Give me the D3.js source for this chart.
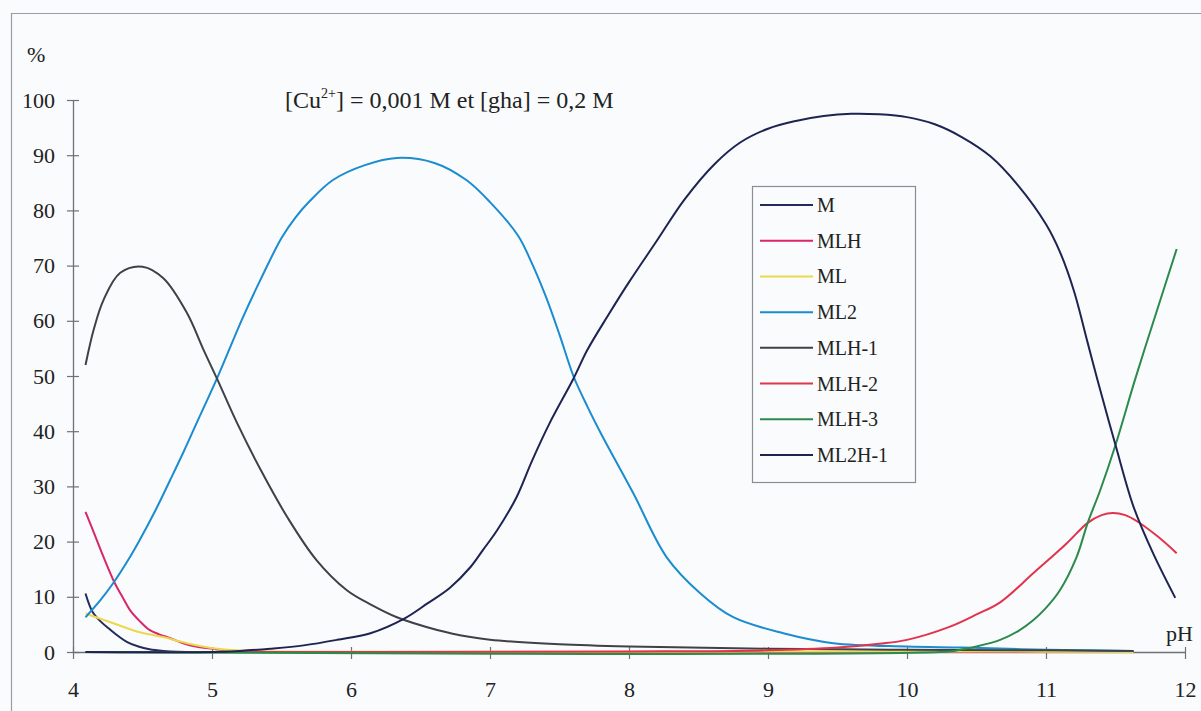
<!DOCTYPE html>
<html>
<head>
<meta charset="utf-8">
<script src="https://cdn.jsdelivr.net/npm/d3@7"></script>
<style>
  html, body { margin: 0; padding: 0; background: #f9fbfc; }
  svg { display: block; }
  text { font-family: "Liberation Serif", "Times New Roman", "DejaVu Serif", serif; fill: #222; }
</style>
</head>
<body>
<svg id="chart" width="1201" height="711"></svg>
<script>
// ---- data ----
const seriesNames = ["M", "MLH", "ML", "ML2", "MLH-1", "MLH-2", "MLH-3", "ML2H-1"];
const seriesColors = ["#222b5c", "#d8276a", "#ecd84c", "#1b8ccf", "#404048", "#e2334d", "#2b8a4c", "#1e2452"];

const M_pH  = [4.09, 4.14, 4.2, 4.27, 4.33, 4.39, 4.47, 4.55, 4.65, 4.75, 5.0, 6.0, 8.0, 10.0, 11.63];
const M_val = [10.6, 7.3, 5.5, 4.0, 2.8, 1.8, 1.0, 0.5, 0.2, 0.05, 0, 0, 0, 0, 0];

const MLH_pH  = [4.09, 4.16, 4.22, 4.3, 4.36, 4.41, 4.48, 4.55, 4.62, 4.7, 4.84, 5.03, 5.2, 6.0, 8.0, 11.63];
const MLH_val = [25.4, 21.0, 17.2, 12.5, 9.8, 7.6, 5.6, 4.0, 3.2, 2.5, 1.2, 0.5, 0.1, 0, 0, 0];

const ML_pH  = [4.09, 4.12, 4.2, 4.29, 4.38, 4.46, 4.55, 4.65, 4.82, 5.04, 5.3, 6.0, 8.0, 10.0, 10.4, 11.63];
const ML_val = [7.0, 6.7, 6.0, 5.2, 4.4, 3.7, 3.2, 2.7, 1.6, 0.6, 0.2, 0.05, 0.05, 0.1, 0.1, 0];

const ML2_pH  = [4.09, 4.2, 4.29, 4.4, 4.48, 4.6, 4.7, 4.8, 4.89, 5.04, 5.22, 5.35, 5.5, 5.6, 5.7, 5.87, 6.1, 6.33, 6.6, 6.83, 7.0, 7.2, 7.3, 7.4, 7.5, 7.6, 7.7, 7.8, 8.03, 8.27, 8.51, 8.75, 9.11, 9.47, 10.0, 10.4, 11.0, 11.63];
const ML2_val = [6.3, 9.5, 12.5, 16.8, 20.3, 26.0, 31.2, 36.5, 41.5, 49.8, 60.5, 67.5, 75.0, 78.7, 81.6, 85.5, 88.2, 89.5, 88.6, 85.5, 81.5, 75.5, 70.5, 64.5, 57.5, 50.0, 44.5, 39.5, 28.8, 17.2, 10.7, 6.3, 3.4, 1.6, 1.0, 0.8, 0.4, 0.2];

const MLH1_pH  = [4.09, 4.15, 4.22, 4.34, 4.5, 4.65, 4.82, 4.94, 5.04, 5.18, 5.35, 5.54, 5.75, 5.97, 6.15, 6.33, 6.62, 6.86, 7.0, 7.5, 8.0, 9.0, 10.0, 11.0, 11.63];
const MLH1_val = [52.0, 58.5, 63.8, 68.7, 69.8, 67.7, 61.4, 54.7, 49.3, 41.5, 33.0, 24.5, 16.7, 11.2, 8.5, 6.3, 4.0, 2.7, 2.2, 1.4, 1.0, 0.6, 0.4, 0.3, 0.2];

const MLH2_pH  = [4.09, 8.0, 9.0, 9.5, 9.8, 10.0, 10.3, 10.5, 10.67, 10.91, 11.15, 11.3, 11.4, 11.48, 11.57, 11.66, 11.8, 11.94];
const MLH2_val = [0, 0.1, 0.3, 0.8, 1.5, 2.2, 4.5, 6.8, 9.0, 14.3, 19.7, 23.4, 24.8, 25.2, 24.8, 23.6, 21.0, 17.9];

const MLH3_pH  = [4.09, 10.3, 10.4, 10.5, 10.67, 10.8, 10.91, 11.0, 11.1, 11.22, 11.3, 11.39, 11.5, 11.64, 11.8, 11.94];
const MLH3_val = [0, 0.1, 0.5, 1.0, 2.2, 3.8, 5.8, 8.0, 11.2, 17.2, 23.4, 29.3, 37.5, 49.3, 62.0, 73.0];

const ML2H1_pH  = [4.09, 5.0, 5.2, 5.42, 5.66, 5.9, 6.14, 6.38, 6.55, 6.71, 6.86, 6.95, 7.05, 7.19, 7.3, 7.43, 7.6, 7.7, 7.85, 8.0, 8.2, 8.4, 8.62, 8.8, 9.0, 9.2, 9.4, 9.6, 9.8, 10.0, 10.2, 10.4, 10.6, 10.8, 11.0, 11.1, 11.2, 11.3, 11.37, 11.5, 11.63, 11.77, 11.93];
const ML2H1_val = [0, 0, 0.2, 0.6, 1.2, 2.2, 3.4, 6.0, 8.8, 11.6, 15.4, 18.5, 22.0, 28.0, 34.5, 41.5, 49.5, 54.7, 61.0, 67.0, 74.5, 82.0, 88.5, 92.3, 94.8, 96.2, 97.1, 97.5, 97.4, 96.9, 95.6, 93.2, 89.8, 84.5, 77.5, 72.5, 65.5, 56.0, 49.3, 37.5, 26.3, 17.9, 9.8];

const xTicks = [4, 5, 6, 7, 8, 9, 10, 11, 12];
const yTicks = [0, 10, 20, 30, 40, 50, 60, 70, 80, 90, 100];

// ---- assemble ----
const seriesPH = [M_pH, MLH_pH, ML_pH, ML2_pH, MLH1_pH, MLH2_pH, MLH3_pH, ML2H1_pH];
const seriesVal = [M_val, MLH_val, ML_val, ML2_val, MLH1_val, MLH2_val, MLH3_val, ML2H1_val];
const series = seriesNames.map((name, i) => ({
  name, color: seriesColors[i],
  points: seriesPH[i].map((p, j) => ({ x: p, y: seriesVal[i][j] }))
}));

const FONT = '"Liberation Serif", "Times New Roman", "DejaVu Serif", serif';
const svg = d3.select("#chart");
const W = 1201, H = 711;

// background & outer frame
svg.append("rect").attr("width", W).attr("height", H).attr("fill", "#f9fbfc");
svg.append("path")
  .attr("d", "M11.5,712 L11.5,13.5 L1202,13.5")
  .attr("fill", "none").attr("stroke", "#9a9ea4").attr("stroke-width", 1.2);

const x = d3.scaleLinear().domain([4, 12]).range([73, 1185]);
const y = d3.scaleLinear().domain([0, 100]).range([652, 100]);

// axes
const axisColor = "#6e7277";
const xAxis = svg.append("g").attr("transform", `translate(0,${y(0)})`)
  .call(d3.axisBottom(x).tickValues(xTicks).tickFormat(d3.format("d")).tickSizeInner(7).tickSizeOuter(0).tickPadding(22));
const yAxis = svg.append("g").attr("transform", `translate(${x(4)},0)`)
  .call(d3.axisLeft(y).tickValues(yTicks).tickFormat(d3.format("d")).tickSizeInner(6).tickSizeOuter(0).tickPadding(12));

[xAxis, yAxis].forEach(g => {
  g.attr("font-family", FONT);
  g.select(".domain").attr("stroke", axisColor).attr("stroke-width", 1.3);
  g.selectAll(".tick line").attr("stroke", axisColor).attr("stroke-width", 1.2);
  g.selectAll(".tick text")
    .attr("font-family", FONT)
    .attr("font-size", 22).attr("fill", "#2a2a2a");
});
// ticks cross the axis
xAxis.selectAll(".tick line").attr("y1", -5).attr("y2", 7);
yAxis.selectAll(".tick line").attr("x1", -6).attr("x2", 6);

// series lines
const line = d3.line().x(d => x(d.x)).y(d => y(d.y)).curve(d3.curveCatmullRom.alpha(0.5));
const g = svg.append("g");
series.forEach(s => {
  g.append("path")
    .datum(s.points)
    .attr("fill", "none")
    .attr("stroke", s.color)
    .attr("stroke-width", 2)
    .attr("stroke-linejoin", "round")
    .attr("d", line);
});

// axis titles
svg.append("text").attr("x", 27).attr("y", 62).attr("font-size", 22).text("%");
svg.append("text").attr("x", 1166).attr("y", 641).attr("font-size", 22).text("pH");

// annotation
const ann = svg.append("text").attr("x", 285).attr("y", 108).attr("font-size", 24);
ann.append("tspan").text("[Cu");
ann.append("tspan").attr("font-size", 14).attr("dy", -10).text("2+");
ann.append("tspan").attr("dy", 10).text("] = 0,001 M et [gha] = 0,2 M");

// legend
const lg = svg.append("g");
lg.append("rect").attr("x", 752.5).attr("y", 186.5).attr("width", 163).attr("height", 296)
  .attr("fill", "#f9fbfc").attr("stroke", "#8a8e93").attr("stroke-width", 1.2);
const legY = d3.scalePoint().domain(seriesNames).range([205, 455]);
series.forEach(s => {
  const yy = legY(s.name);
  lg.append("line").attr("x1", 760).attr("x2", 813).attr("y1", yy).attr("y2", yy)
    .attr("stroke", s.color).attr("stroke-width", 2);
  lg.append("text").attr("x", 817).attr("y", yy + 7).attr("font-size", 20).text(s.name);
});
</script>
</body>
</html>
